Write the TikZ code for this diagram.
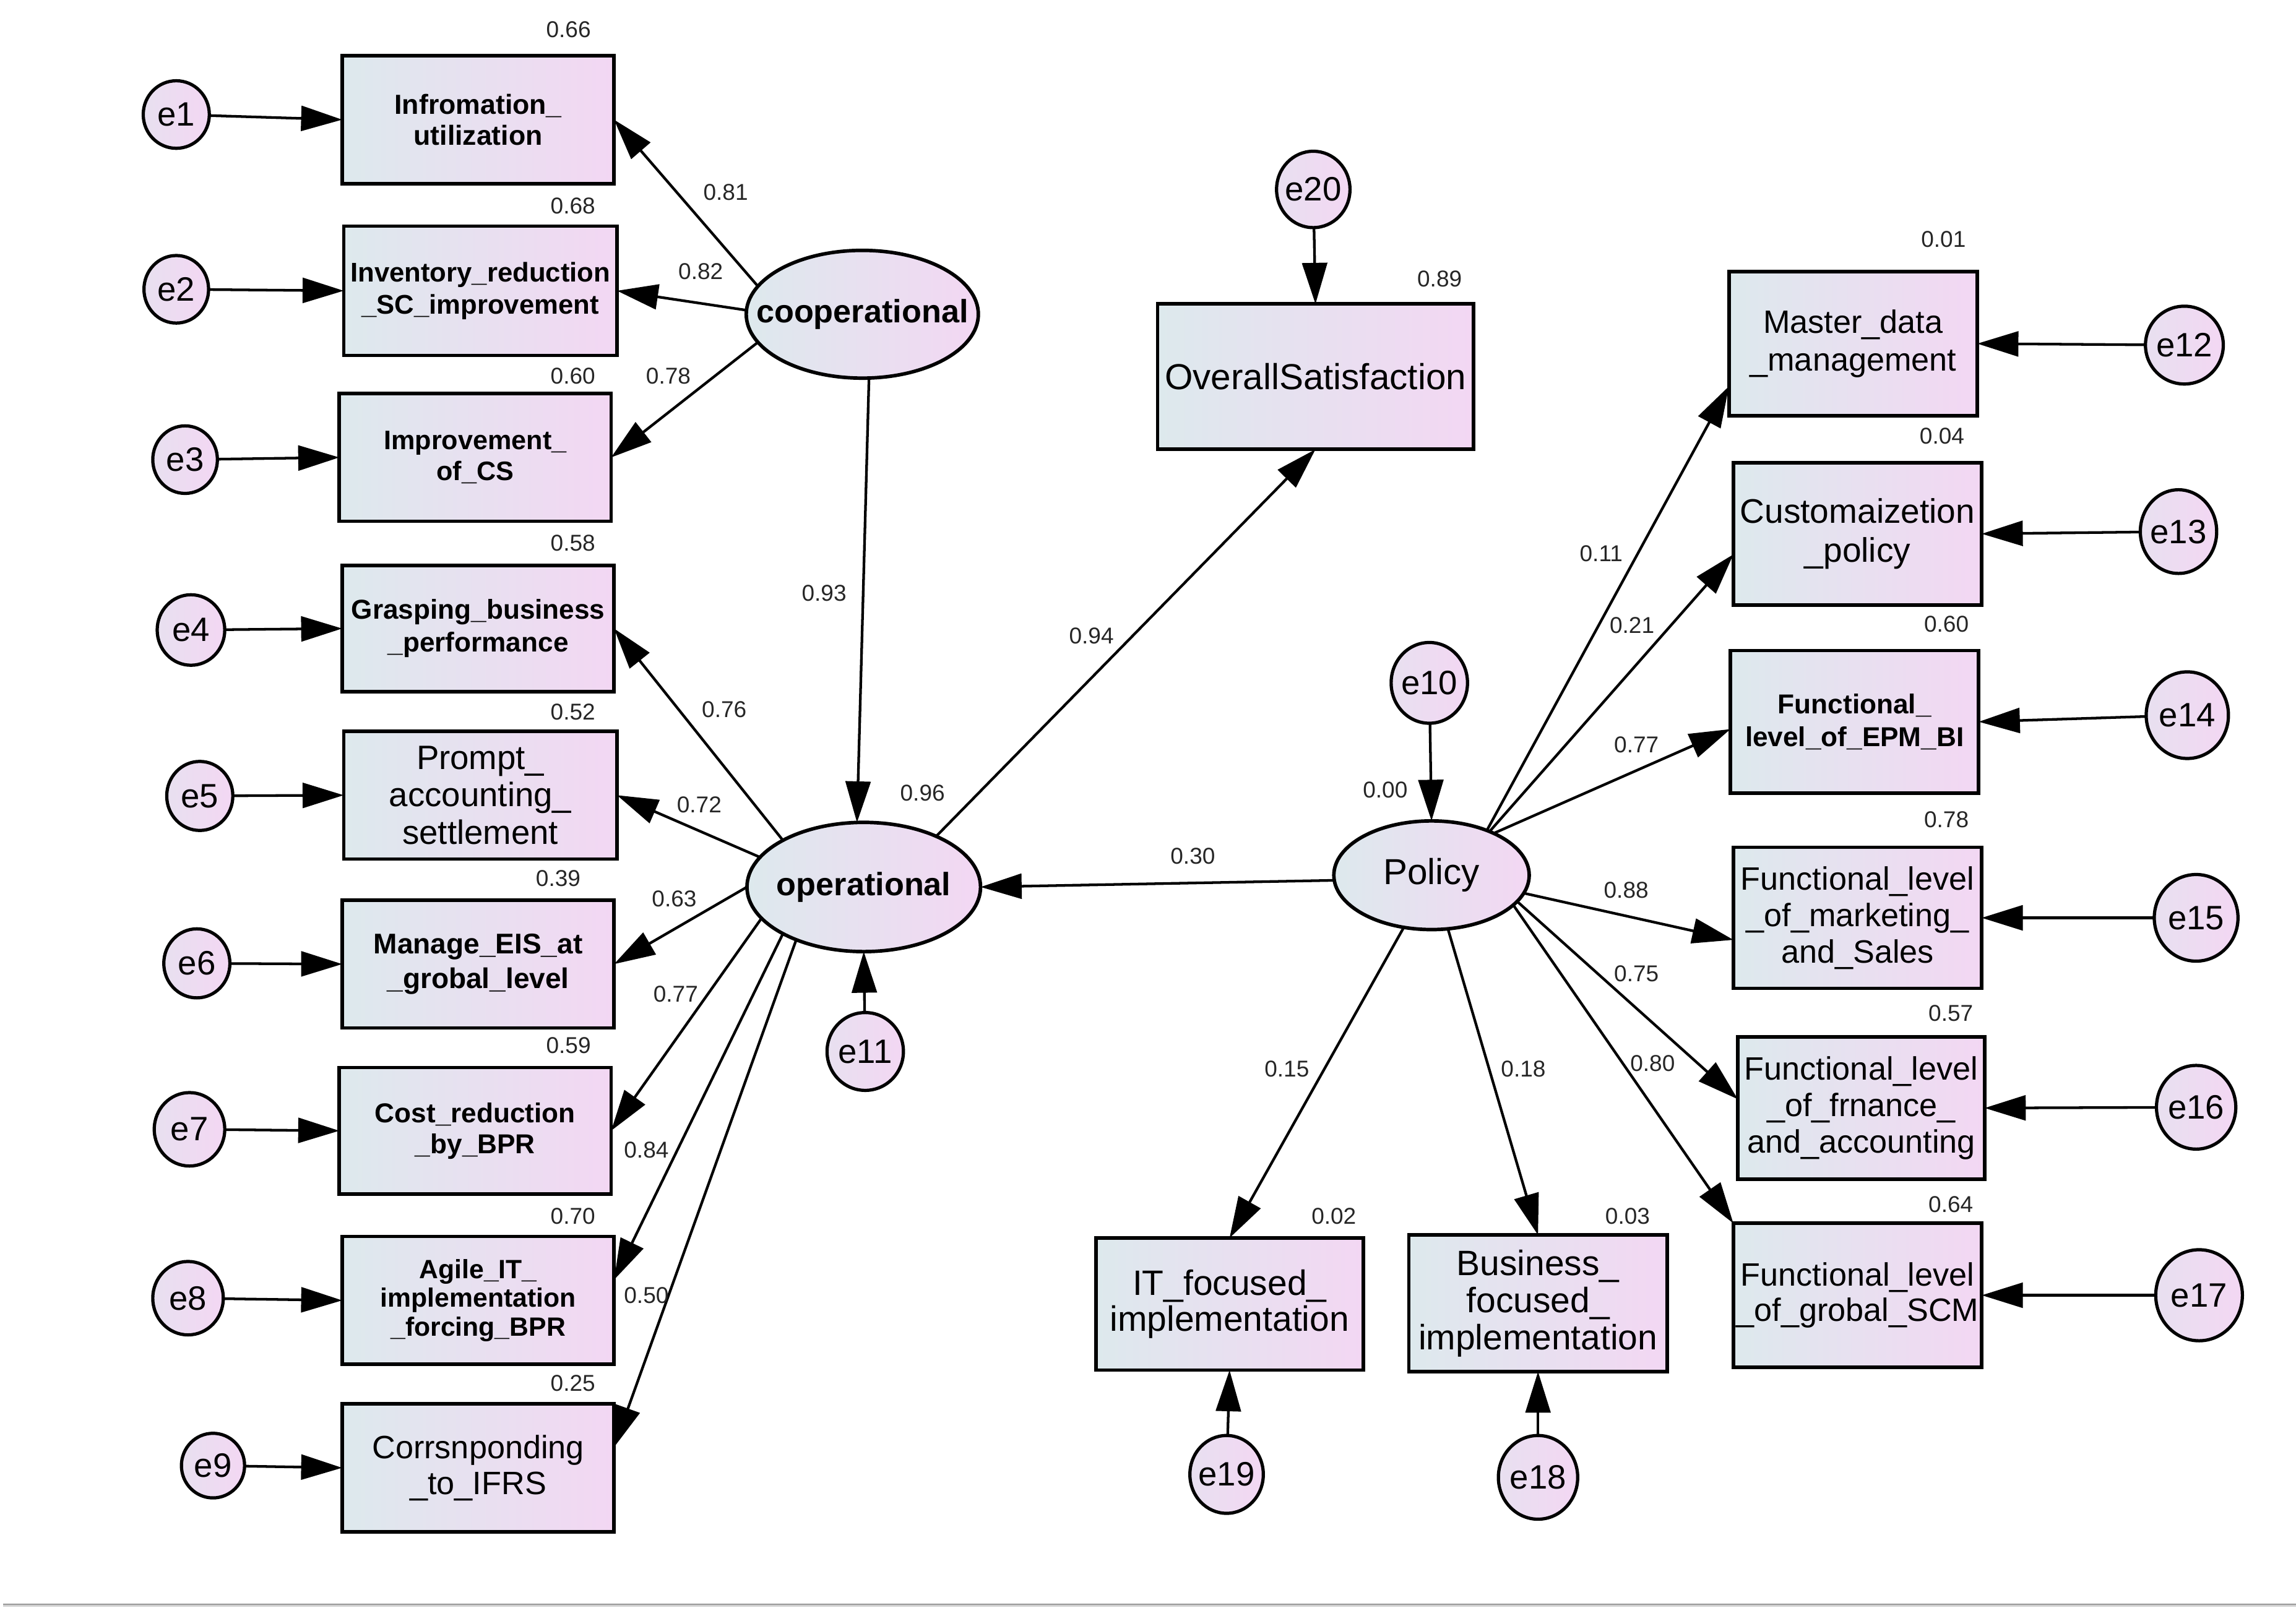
\documentclass[tikz,border=0pt]{standalone}
\usepackage{fontspec}
\setmainfont{Liberation Sans}
\usetikzlibrary{arrows.meta,shapes.geometric,calc}
\definecolor{gleft}{RGB}{221,233,237}
\definecolor{gright}{RGB}{243,215,243}
\begin{document}
\begin{tikzpicture}[x=0.5pt,y=-0.5pt,
  conn/.style={line width=0.9pt,-{Triangle[length=14pt,width=8.5pt]}},
  sz/.style 2 args={minimum width=#1*0.5pt,minimum height=#2*0.5pt},
  obs/.style={draw,line width=1.2pt,rectangle,left color=gleft,right color=gright,inner sep=1pt,outer sep=0pt,align=center},
  lat/.style={draw,line width=1.2pt,ellipse,left color=gleft,right color=gright,inner sep=0pt,outer sep=0pt},
  err/.style={draw,line width=1.1pt,ellipse,left color=gleft!50!gright,right color=gright,inner sep=0pt,outer sep=0pt,font=\fontsize{11.5}{12}\selectfont},
  num/.style={inner sep=0pt,font=\fontsize{7.8}{8}\selectfont,text=black!85},
  fb/.style 2 args={font=\bfseries\fontsize{#1}{#2}\selectfont},
  fr/.style 2 args={font=\fontsize{#1}{#2}\selectfont}
]
\path[use as bounding box] (0,0) rectangle (1563,1100.4);
\fill[white] (0,0) rectangle (1563,1100.4);
% bottom rule
\fill[black!40] (2,1091.9) rectangle (1563,1092.9);
\fill[black!18] (2,1092.9) rectangle (1563,1094.1);

% left observed boxes
\node[obs,sz={185}{87},fb={9.4}{10.5}] (b1) at (325.5,81.5) {Infromation\_\\utilization};
\node[obs,sz={186}{88},fb={9.2}{11}] (b2) at (327,198) {Inventory\_reduction\\\_SC\_improvement};
\node[obs,sz={185}{87},fb={9.1}{10.4}] (b3) at (323.5,311.5) {Improvement\_\\of\_CS};
\node[obs,sz={185}{86},fb={9.3}{11.2}] (b4) at (325.5,428) {Grasping\_business\\\_performance};
\node[obs,sz={186}{87},fr={11.5}{12.8}] (b5) at (327,541.5) {Prompt\_\\accounting\_\\settlement};
\node[obs,sz={185}{87},fb={9.7}{11.6}] (b6) at (325.5,656.5) {Manage\_EIS\_at\\\_grobal\_level};
\node[obs,sz={185}{86},fb={9.3}{10.5}] (b7) at (323.5,770) {Cost\_reduction\\\_by\_BPR};
\node[obs,sz={185}{87},fb={9}{9.8}] (b8) at (325.5,885.5) {Agile\_IT\_\\implementation\\\_forcing\_BPR};
\node[obs,sz={185}{87},fr={11}{12.3}] (b9) at (325.5,999.5) {Corrsnponding\\\_to\_IFRS};

% latent variables
\node[lat,sz={158}{87},fb={11}{12}] (coop) at (587,214) {\makebox[0pt]{cooperational}};
\node[lat,sz={159}{88},fb={11}{12}] (op) at (588,604) {\makebox[0pt]{operational}};
\node[lat,sz={133}{74},fr={12.3}{13}] (pol) at (974.5,596) {\makebox[0pt]{Policy}};

% other observed boxes
\node[obs,sz={215}{99},fr={12.3}{13}] (ovr) at (895.5,256.5) {OverallSatisfaction};
\node[obs,sz={169}{98},fr={11}{12.7}] (mas) at (1261.5,234) {Master\_data\\\_management};
\node[obs,sz={169}{97},fr={11.6}{13.4}] (cus) at (1264.5,363.5) {Customaizetion\\\_policy};
\node[obs,sz={169}{97},fb={9.3}{11.2}] (epm) at (1262.5,491.5) {Functional\_\\level\_of\_EPM\_BI};
\node[obs,sz={169}{96},fr={11}{12.4}] (mkt) at (1264.5,625) {Functional\_level\\\_of\_marketing\_\\and\_Sales};
\node[obs,sz={168}{97},fr={11}{12.4}] (fin) at (1267,754.5) {Functional\_level\\\_of\_frnance\_\\and\_accounting};
\node[obs,sz={169}{98},fr={11}{11.9}] (scm) at (1264.5,882) {Functional\_level\\\_of\_grobal\_SCM};
\node[obs,sz={182}{90},fr={12}{12.4}] (it) at (837,888) {IT\_focused\_\\implementation};
\node[obs,sz={176}{93},fr={12}{12.6}] (bus) at (1047,887.5) {Business\_\\focused\_\\implementation};

% error terms
\node[err,sz={45}{46}] (e1) at (120,78) {\makebox[0pt]{e1}};
\node[err,sz={44}{46}] (e2) at (120,197) {\makebox[0pt]{e2}};
\node[err,sz={44}{46}] (e3) at (126,313) {\makebox[0pt]{e3}};
\node[err,sz={46}{48}] (e4) at (130,429) {\makebox[0pt]{e4}};
\node[err,sz={45}{47}] (e5) at (136,542) {\makebox[0pt]{e5}};
\node[err,sz={45}{47}] (e6) at (134,656) {\makebox[0pt]{e6}};
\node[err,sz={48}{50}] (e7) at (129,769) {\makebox[0pt]{e7}};
\node[err,sz={48}{50}] (e8) at (128,884) {\makebox[0pt]{e8}};
\node[err,sz={43}{44}] (e9) at (145,998) {\makebox[0pt]{e9}};
\node[err,sz={50}{52}] (e20) at (894,129) {\makebox[0pt]{e20}};
\node[err,sz={52}{55}] (e10) at (973,465) {\makebox[0pt]{e10}};
\node[err,sz={52}{53}] (e11) at (589,716) {\makebox[0pt]{e11}};
\node[err,sz={53}{53}] (e12) at (1487,235) {\makebox[0pt]{e12}};
\node[err,sz={52}{57}] (e13) at (1483,362) {\makebox[0pt]{e13}};
\node[err,sz={56}{59}] (e14) at (1489,487) {\makebox[0pt]{e14}};
\node[err,sz={57}{59}] (e15) at (1495,625) {\makebox[0pt]{e15}};
\node[err,sz={54}{57}] (e16) at (1495,754) {\makebox[0pt]{e16}};
\node[err,sz={59}{62}] (e17) at (1497,882) {\makebox[0pt]{e17}};
\node[err,sz={50}{53}] (e19) at (835,1004) {\makebox[0pt]{e19}};
\node[err,sz={54}{57}] (e18) at (1047,1006) {\makebox[0pt]{e18}};

% structural paths
\draw[conn] (coop.165) -- (b1.east);
\draw[conn] (coop.178) -- (b2.east);
\draw[conn] (coop.195) -- (b3.east);
\draw[conn] (coop.276) -- (op.96);
\draw[conn] (op.150) -- (b4.east);
\draw[conn] (op.164) -- (b5.east);
\draw[conn] (op.180) -- (b6.east);
\draw[conn] (op.197) -- (b7.east);
\draw[conn] (op.210) -- ($(b8.east)+(0,-14)$);
\draw[conn] (op.218) -- ($(b9.east)+(0,-14)$);
\draw[conn] (op.35) -- (ovr.south);
\draw[conn] (pol.183) -- (op.east);
\draw[conn] (pol.39) -- ($(mas.west)+(0,29)$);
\draw[conn] (pol.37) -- ($(cus.west)+(0,14)$);
\draw[conn] (pol.34) -- ($(epm.west)+(0,5)$);
\draw[conn] (pol.349) -- ($(mkt.west)+(0,15)$);
\draw[conn] (pol.343) -- ($(fin.west)+(0,-6)$);
\draw[conn] (pol.340) -- (scm.north west);
\draw[conn] (pol.242) -- (it.north);
\draw[conn] (pol.287) -- (bus.north);

% error paths
\foreach \e/\b in {e1/b1,e2/b2,e3/b3,e4/b4,e5/b5,e6/b6,e7/b7,e8/b8,e9/b9}
  \draw[conn] (\e) -- (\b.west);
\foreach \e/\b in {e12/mas,e13/cus,e14/epm,e15/mkt,e16/fin,e17/scm}
  \draw[conn] (\e) -- (\b.east);
\draw[conn] (e19) -- (it.south);
\draw[conn] (e18) -- (bus.south);
\draw[conn] (e20) -- (ovr.north);
\draw[conn] (e10) -- (pol.north);
\draw[conn] (e11) -- (op.south);

% squared multiple correlations
\node[num] (r1) at (387,20) {0.66};
\node[num] (r2) at (390,140) {0.68};
\node[num] (r3) at (390,256) {0.60};
\node[num] (r4) at (390,370) {0.58};
\node[num] (r5) at (390,485) {0.52};
\node[num] (r6) at (380,598) {0.39};
\node[num] (r7) at (387,712) {0.59};
\node[num] (r8) at (390,828) {0.70};
\node[num] (r9) at (390,942) {0.25};
\node[num] (rovr) at (980,190) {0.89};
\node[num] (rmas) at (1323,163) {0.01};
\node[num] (rcus) at (1322,297) {0.04};
\node[num] (repm) at (1325,425) {0.60};
\node[num] (rmkt) at (1325,558) {0.78};
\node[num] (rfin) at (1328,690) {0.57};
\node[num] (rscm) at (1328,820) {0.64};
\node[num] (rit) at (908,828) {0.02};
\node[num] (rbus) at (1108,828) {0.03};
\node[num] (rpol) at (943,538) {0.00};
\node[num] (rop) at (628,540) {0.96};

% path coefficients
\node[num] (p1) at (494,131) {0.81};
\node[num] (p2) at (477,185) {0.82};
\node[num] (p3) at (455,256) {0.78};
\node[num] (pco) at (561,404) {0.93};
\node[num] (pov) at (743,433) {0.94};
\node[num] (p4) at (493,483) {0.76};
\node[num] (p5) at (476,548) {0.72};
\node[num] (p6) at (459,612) {0.63};
\node[num] (p7) at (460,677) {0.77};
\node[num] (p8) at (440,783) {0.84};
\node[num] (p9) at (440,882) {0.50};
\node[num] (ppo) at (812,583) {0.30};
\node[num] (pmas) at (1090,377) {0.11};
\node[num] (pcus) at (1111,426) {0.21};
\node[num] (pepm) at (1114,507) {0.77};
\node[num] (pmkt) at (1107,606) {0.88};
\node[num] (pfin) at (1114,663) {0.75};
\node[num] (pscm) at (1125,724) {0.80};
\node[num] (pit) at (876,728) {0.15};
\node[num] (pbus) at (1037,728) {0.18};
\end{tikzpicture}
\end{document}
